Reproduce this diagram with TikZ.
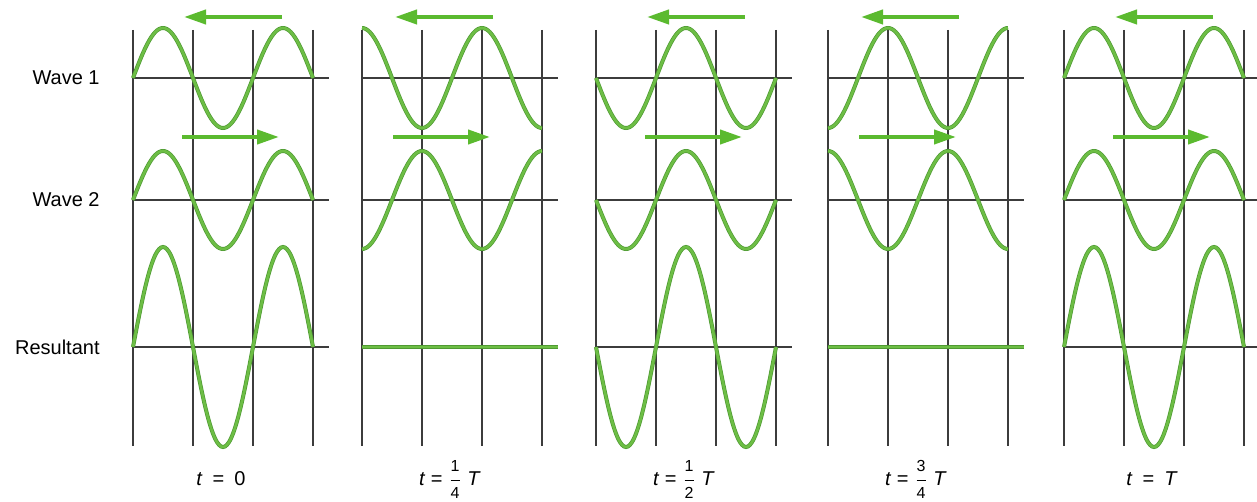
\documentclass[tikz,border=0pt]{standalone}
\usepackage{fontspec}
\setmainfont{Liberation Sans}
\usetikzlibrary{arrows.meta}

\definecolor{wavegreen}{HTML}{6DBE45}
\definecolor{waveedge}{HTML}{4F9A33}
\definecolor{arrowgreen}{HTML}{5BBA2F}
\definecolor{gridgray}{HTML}{3C3C3C}

% quarter-period fraction in the text font
\newcommand{\qfrac}[2]{$\displaystyle\frac{\mbox{\footnotesize #1}}{\mbox{\footnotesize #2}}$}

\begin{document}
\begin{tikzpicture}[
  x=0.5pt, y=-0.5pt,
  every node/.style={font=\normalsize, inner sep=0pt},
  gridline/.style={draw=gridgray, line width=1pt},
  wave/.style={draw=wavegreen, line width=1.3pt,
    preaction={draw=waveedge, line width=2pt}},
  motion/.style={draw=arrowgreen, line width=2pt,
    -{Triangle[length=11pt, width=7pt]}},
  rowlabel/.style={anchor=east},
  timelabel/.style={anchor=base}
]
  \useasboundingbox (0,0) rectangle (1257,502);

  % Row labels
  \node[rowlabel] (wone) at (100,78) {Wave 1};
  \node[rowlabel] (wtwo) at (100,200) {Wave 2};
  \node[rowlabel] (result) at (100,347) {Resultant};

  % One panel per quarter period
  \foreach \px/\k/\ax/\tlab in {
      133/0/51/{\textit{t}\enspace=\enspace0},
      362/1/33/{\textit{t}\;=\;\qfrac{1}{4}\;\textit{T}},
      596/2/51/{\textit{t}\;=\;\qfrac{1}{2}\;\textit{T}},
      828/3/33/{\textit{t}\;=\;\qfrac{3}{4}\;\textit{T}},
      1064/4/51/{\textit{t}\enspace=\enspace\textit{T}}} {

    % grid
    \foreach \i in {0,1,2,3}
      \draw[gridline] (\px+60*\i,30) -- (\px+60*\i,446);
    \foreach \ry in {78,200,347}
      \draw[gridline] (\px,\ry) -- (\px+196,\ry);

    % travelling waves
    \draw[wave] plot[domain=0:180, samples=91, smooth]
      ({\px+\x}, {78-50*sin(3*\x+90*\k)});
    \draw[wave] plot[domain=0:180, samples=91, smooth]
      ({\px+\x}, {200-49*sin(3*\x-90*\k)});

    % resultant
    \ifodd\k
      \draw[wave] (\px,347) -- (\px+196,347);
    \else
      \draw[wave] plot[domain=0:180, samples=91, smooth]
        ({\px+\x}, {347-50*(sin(3*\x+90*\k)+sin(3*\x-90*\k))});
    \fi

    % direction of travel
    \coordinate (leftfrom\k) at (\px+\ax+98,17);
    \coordinate (leftto\k) at (\px+\ax,17);
    \coordinate (rightfrom\k) at (\px+\ax-2,137);
    \coordinate (rightto\k) at (\px+\ax+95,137);
    \draw[motion] (leftfrom\k) -- (leftto\k);
    \draw[motion] (rightfrom\k) -- (rightto\k);

    % time
    \node[timelabel] (time\k) at (\px+88,485) {\tlab};
  }
\end{tikzpicture}
\end{document}
